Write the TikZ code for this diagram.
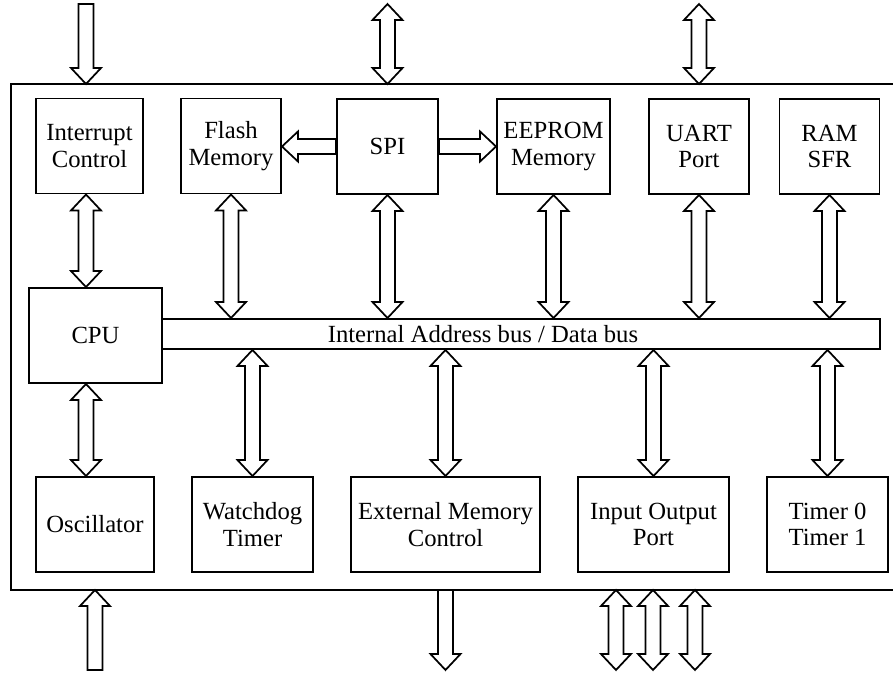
\documentclass[tikz,border=0pt]{standalone}
\usepackage{fontspec}
\setmainfont{Liberation Serif}
\usetikzlibrary{calc}

\newcommand{\arrhw}{11.25pt}
\newcommand{\arrsw}{5.6pt}
\newcommand{\arrhl}{12pt}
% hollow double arrow, vertical
\newcommand{\busarrow}[2]{%
  \draw[fatarrow] let \p1=#1, \p2=#2, \n1={sign(\y2-\y1)*\arrhl} in
    (\x1,\y1) -- ({\x1+\arrhw},{\y1+\n1}) -- ({\x1+\arrsw},{\y1+\n1})
    -- ({\x1+\arrsw},{\y2-\n1}) -- ({\x1+\arrhw},{\y2-\n1}) -- (\x1,\y2)
    -- ({\x1-\arrhw},{\y2-\n1}) -- ({\x1-\arrsw},{\y2-\n1})
    -- ({\x1-\arrsw},{\y1+\n1}) -- ({\x1-\arrhw},{\y1+\n1}) -- cycle;}
% hollow single arrow, vertical (tail, tip)
\newcommand{\inarrow}[2]{%
  \draw[fatarrow] let \p1=#1, \p2=#2, \n1={sign(\y2-\y1)*\arrhl} in
    ({\x1-\arrsw},\y1) -- ({\x1-\arrsw},{\y2-\n1}) -- ({\x1-\arrhw},{\y2-\n1})
    -- (\x1,\y2) -- ({\x1+\arrhw},{\y2-\n1}) -- ({\x1+\arrsw},{\y2-\n1})
    -- ({\x1+\arrsw},\y1) -- cycle;}
% hollow single arrow, horizontal (tail, tip)
\newcommand{\sidearrow}[2]{%
  \draw[fatarrow] let \p1=#1, \p2=#2, \n1={sign(\x2-\x1)*\arrhl} in
    (\x1,{\y1-\arrsw}) -- ({\x2-\n1},{\y1-\arrsw}) -- ({\x2-\n1},{\y1-\arrhw})
    -- (\x2,\y1) -- ({\x2-\n1},{\y1+\arrhw}) -- ({\x2-\n1},{\y1+\arrsw})
    -- (\x1,{\y1+\arrsw}) -- cycle;}

\tikzset{
  block/.style={draw,line width=1.45pt,inner sep=0pt,align=center,minimum height=71.25pt},
  fatarrow/.style={draw,fill=white,line width=1.3pt},
}

\begin{document}
\begin{tikzpicture}[x=0.75pt,y=-0.75pt,font=\fontsize{18.5}{20}\selectfont]
	\useasboundingbox (0,0) rectangle (893,674);
	\coordinate (chiptl) at (11,84);
	\coordinate (chipbr) at (893,590);
	\coordinate (topedge) at (0,4);
	\coordinate (botedge) at (0,670);
	\coordinate (irqline) at (86,0);
	\coordinate (port0) at (616,0);
	\coordinate (port1) at (653,0);
	\coordinate (port2) at (695,0);
	\draw[line width=1.45pt] (chipbr |- chiptl) -- (chiptl) -- (chiptl |- chipbr) -- (chipbr);

	% top row
	\node[block,minimum width=80.25pt] (intc) at (89.5,146) {Interrupt\\Control};
	\node[block,minimum width=75pt] (flash) at (231,146) {Flash\\Memory};
	\node[block,minimum width=75.75pt] (spi) at (387.5,146.5) {SPI};
	\node[block,minimum width=84.75pt] (eeprom) at (553.5,146.5) {EEPROM\\Memory};
	\node[block,minimum width=75pt] (uart) at (699,146.5) {UART\\Port};
	\node[block,minimum width=75pt] (ram) at (829.5,146.5) {RAM\\SFR};

	% cpu and bus
	\node[block,minimum width=99.75pt] (cpu) at (95.5,335.5) {CPU};
	\node[block,minimum width=538.5pt,minimum height=22.5pt] (bus) at (521,334) {};
	\node (buslbl) at (483,334) {Internal Address bus / Data bus};

	% bottom row
	\node[block,minimum width=88.5pt] (osc) at (95,524.5) {Oscillator};
	\node[block,minimum width=90.75pt] (wdt) at (252.5,524.5) {Watchdog\\Timer};
	\node[block,minimum width=141.75pt] (extmem) at (445.5,524.5) {External Memory\\Control};
	\node[block,minimum width=113.25pt] (io) at (653.5,524.5) {Input Output\\Port};
	\node[block,minimum width=90.75pt] (timer) at (827.5,524.5) {Timer 0\\Timer 1};

	% inside
	\sidearrow{(spi.west)}{(flash.east)}
	\sidearrow{(spi.east)}{(eeprom.west)}
	\busarrow{(irqline |- intc.south)}{(irqline |- cpu.north)}
	\busarrow{(irqline |- cpu.south)}{(irqline |- osc.north)}
	\busarrow{(flash.south)}{(flash.south |- bus.north)}
	\busarrow{(spi.south)}{(spi.south |- bus.north)}
	\busarrow{(eeprom.south)}{(eeprom.south |- bus.north)}
	\busarrow{(uart.south)}{(uart.south |- bus.north)}
	\busarrow{(ram.south)}{(ram.south |- bus.north)}
	\busarrow{(bus.south -| wdt.north)}{(wdt.north)}
	\busarrow{(bus.south -| extmem.north)}{(extmem.north)}
	\busarrow{(bus.south -| io.north)}{(io.north)}
	\busarrow{(bus.south -| timer.north)}{(timer.north)}

	% outside
	\inarrow{(irqline |- topedge)}{(irqline |- chiptl)}
	\busarrow{(spi.north |- topedge)}{(spi.north |- chiptl)}
	\busarrow{(uart.north |- topedge)}{(uart.north |- chiptl)}
	\inarrow{(osc.south |- botedge)}{(osc.south |- chipbr)}
	\inarrow{(extmem.south |- chipbr)}{(extmem.south |- botedge)}
	\busarrow{(port0 |- chipbr)}{(port0 |- botedge)}
	\busarrow{(port1 |- chipbr)}{(port1 |- botedge)}
	\busarrow{(port2 |- chipbr)}{(port2 |- botedge)}
\end{tikzpicture}
\end{document}
